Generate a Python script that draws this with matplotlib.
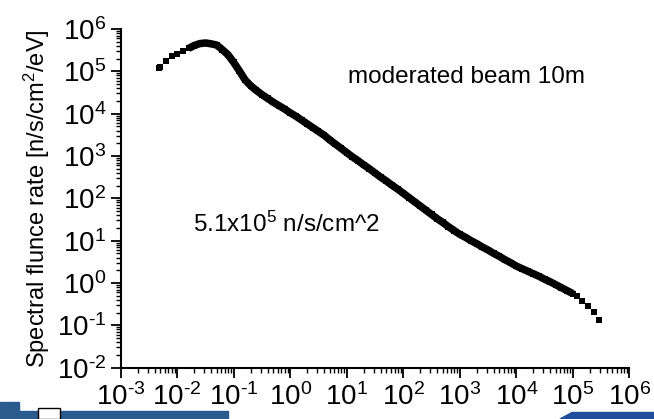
import numpy as np
import matplotlib
matplotlib.use("Agg")
import matplotlib.pyplot as plt
from matplotlib.patches import Rectangle, Polygon
from matplotlib.ticker import FixedLocator, NullFormatter, FuncFormatter

plt.rcParams['font.family'] = ['Liberation Sans', 'DejaVu Sans']
plt.rcParams['mathtext.fontset'] = 'custom'
plt.rcParams['mathtext.rm'] = 'Liberation Sans'
plt.rcParams['mathtext.it'] = 'Liberation Sans:italic'
plt.rcParams['mathtext.bf'] = 'Liberation Sans:bold'

# moderated beam spectrum, log10(E / eV) and log10(flux / n/s/cm2/eV)
log_energy = [-2.33, -2.30, -2.20, -2.10, -2.00, -1.90, -1.80, -1.70, -1.60, -1.50,
              -1.40, -1.30, -1.20, -1.10, -1.00, -0.90, -0.80, -0.70, -0.60, -0.50,
              -0.40, -0.30, -0.20, -0.10, 0.00, 0.10, 0.20, 0.30, 0.40, 0.50,
              0.60, 0.70, 0.80, 0.90, 1.00, 1.10, 1.20, 1.30, 1.40, 1.50,
              1.60, 1.70, 1.80, 1.90, 2.00, 2.10, 2.20, 2.30, 2.40, 2.50,
              2.60, 2.70, 2.80, 2.90, 3.00, 3.10, 3.20, 3.30, 3.40, 3.50,
              3.60, 3.70, 3.80, 3.90, 4.00, 4.10, 4.20, 4.30, 4.40, 4.50,
              4.60, 4.70, 4.80, 4.90, 5.00, 5.07, 5.17, 5.27, 5.37, 5.466]
log_flux = [5.07, 5.11, 5.25, 5.37, 5.42, 5.48, 5.54, 5.61, 5.655, 5.67,
            5.65, 5.62, 5.51, 5.39, 5.21, 5.01, 4.80, 4.66, 4.55, 4.45,
            4.36, 4.27, 4.19, 4.11, 4.02, 3.94, 3.85, 3.76, 3.67, 3.58,
            3.49, 3.38, 3.28, 3.18, 3.08, 2.98, 2.89, 2.79, 2.70, 2.60,
            2.50, 2.41, 2.31, 2.22, 2.12, 2.02, 1.92, 1.82, 1.72, 1.62,
            1.52, 1.43, 1.33, 1.24, 1.15, 1.08, 1.00, 0.93, 0.85, 0.78,
            0.70, 0.63, 0.55, 0.48, 0.40, 0.34, 0.28, 0.22, 0.16, 0.09,
            0.03, -0.04, -0.11, -0.18, -0.25, -0.307, -0.425, -0.543, -0.677, -0.873]

# decades shown on each axis
x_decades = [-3, -2, -1, 0, 1, 2, 3, 4, 5, 6]
y_decades = [-2, -1, 0, 1, 2, 3, 4, 5, 6]

energy = 10.0 ** np.array(log_energy)
flux = 10.0 ** np.array(log_flux)
# the well-populated middle part of the spectrum forms a solid band
dense = (energy > 0.015) & (energy < 1.1e5)

W, H = 654, 419
fig = plt.figure(figsize=(W / 100, H / 100), dpi=100)
ax = fig.add_axes([120.7 / W, 51.3 / H, 508.6 / W, 338.7 / H])

ax.plot(energy[dense], flux[dense], '-', color='black', lw=5.4,
        solid_capstyle='butt', zorder=3)
ax.plot(energy, flux, 's', color='black', ms=3.8, mew=0, zorder=4)

ax.set_xscale('log')
ax.set_yscale('log')
ax.set_xlim(10.0 ** x_decades[0], 10.0 ** x_decades[-1])
ax.set_ylim(10.0 ** y_decades[0], 10.0 ** y_decades[-1])


def decade_label(v, pos):
    # short hyphen in the exponent instead of the wide math minus
    n = int(round(np.log10(v)))
    exp = (r'\text{-}%d' % -n) if n < 0 else '%d' % n
    return r'$\mathregular{10^{%s}}$' % exp


for axis, decs in ((ax.xaxis, x_decades), (ax.yaxis, y_decades)):
    major = [10.0 ** d for d in decs]
    minor = [k * 10.0 ** d for d in decs[:-1] for k in range(2, 10)]
    axis.set_major_locator(FixedLocator(major))
    axis.set_major_formatter(FuncFormatter(decade_label))
    axis.set_minor_locator(FixedLocator(minor))
    axis.set_minor_formatter(NullFormatter())

ax.spines['top'].set_visible(False)
ax.spines['right'].set_visible(False)
for s in ('left', 'bottom'):
    ax.spines[s].set_linewidth(1.5)
ax.tick_params(which='major', direction='out', length=7.5, width=1.3,
               labelsize=20)
ax.tick_params(axis='x', which='major', pad=3.5)
ax.tick_params(axis='y', which='major', pad=3)
ax.tick_params(which='minor', direction='out', length=3.6, width=1.0)

ax.set_ylabel('Spectral flunce rate [n/s/cm$^2$/eV]', fontsize=17)
ax.yaxis.set_label_coords(-0.136, 0.5)

ax.text(0.447, 0.8406, 'moderated beam 10m', transform=ax.transAxes,
        fontsize=17.5, ha='left', va='baseline')
ax.text(0.142, 0.4015, '5.1x10$^5$ n/s/cm^2', transform=ax.transAxes,
        fontsize=17.5, ha='left', va='baseline')


def px(x, y):
    # pixel position (from top left) to figure fraction
    return (x / W, 1 - y / H)


# slide footer strips along the bottom edge
blue = '#2b5b8e'
fig.patches.append(Rectangle(px(0, 419), 19 / W, 17.3 / H, transform=fig.transFigure,
                             color=blue, zorder=5))
fig.patches.append(Rectangle(px(0, 419), 228 / W, 8 / H, transform=fig.transFigure,
                             color=blue, zorder=5))
fig.patches.append(Rectangle(px(38, 419), 22 / W, 11.3 / H, transform=fig.transFigure,
                             facecolor='white', edgecolor='black', lw=1, zorder=6))
fig.patches.append(Polygon([px(560, 419), px(572, 412.5), px(654, 412.5), px(654, 419)],
                           closed=True, transform=fig.transFigure, color='#1f4f9c',
                           zorder=5))

fig.savefig('out.png', dpi=100)
